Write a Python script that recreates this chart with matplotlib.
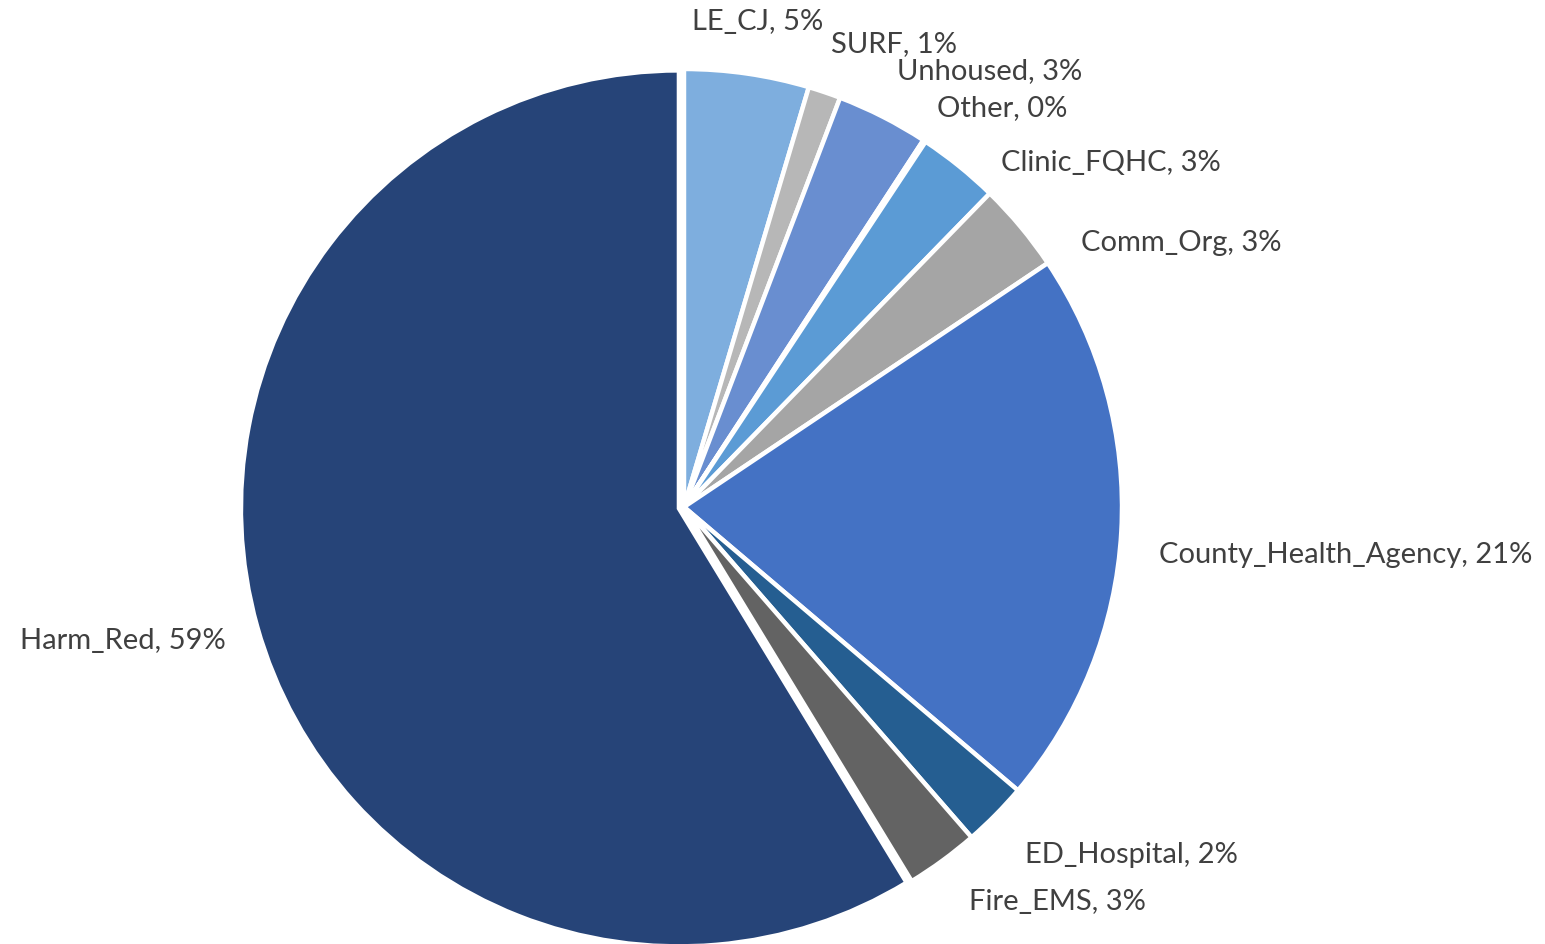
import matplotlib.pyplot as plt
import numpy as np

labels = ['LE_CJ', 'SURF', 'Unhoused', 'Other', 'Clinic_FQHC', 'Comm_Org',
          'County_Health_Agency', 'ED_Hospital', 'Fire_EMS', 'Harm_Red']
values = [4.6, 1.2, 3.4, 0.1, 3.0, 3.3, 20.6, 2.4, 2.7, 58.7]
colors = ['#7EAEDE', '#B7B7B7', '#698ED0', '#A5A5A5', '#5B9BD5', '#A5A5A5',
          '#4472C4', '#255E91', '#636363', '#264478']

# where Excel dropped each label (pixels from top-left), and alignment
label_pos = {
    'LE_CJ': (692, 22, 'left'),
    'SURF': (831, 44, 'left'),
    'Unhoused': (897, 71, 'left'),
    'Other': (937, 108, 'left'),
    'Clinic_FQHC': (1001, 163, 'left'),
    'Comm_Org': (1081, 243, 'left'),
    'County_Health_Agency': (1159, 555, 'left'),
    'ED_Hospital': (1025, 855, 'left'),
    'Fire_EMS': (969, 902, 'left'),
    'Harm_Red': (226, 641, 'right'),
}

W, H = 1545, 944
fig = plt.figure(figsize=(W / 100, H / 100), dpi=100)
fig.set_facecolor('white')

cx, cy, r = 684, 507, 438
ax = fig.add_axes([(cx - r) / W, (H - cy - r) / H, 2 * r / W, 2 * r / H])

explode = [0.012 if l == 'Harm_Red' else 0 for l in labels]
ax.pie(values, colors=colors, startangle=90, counterclock=False, explode=explode,
       radius=1, wedgeprops=dict(edgecolor='white', linewidth=3.2))
# pie() resets the limits to +-1.25, put them back
ax.set_xlim(-1, 1)
ax.set_ylim(-1, 1)
ax.axis('off')

total = sum(values)
for l, v in zip(labels, values):
    px, py, ha = label_pos[l]
    pct = int(v / total * 100 + 0.5)
    fig.text(px / W, 1 - py / H, f'{l}, {pct}%', ha=ha, va='center',
             fontsize=21, color='#404040', family='Lato')

fig.savefig('out.png', dpi=100)
